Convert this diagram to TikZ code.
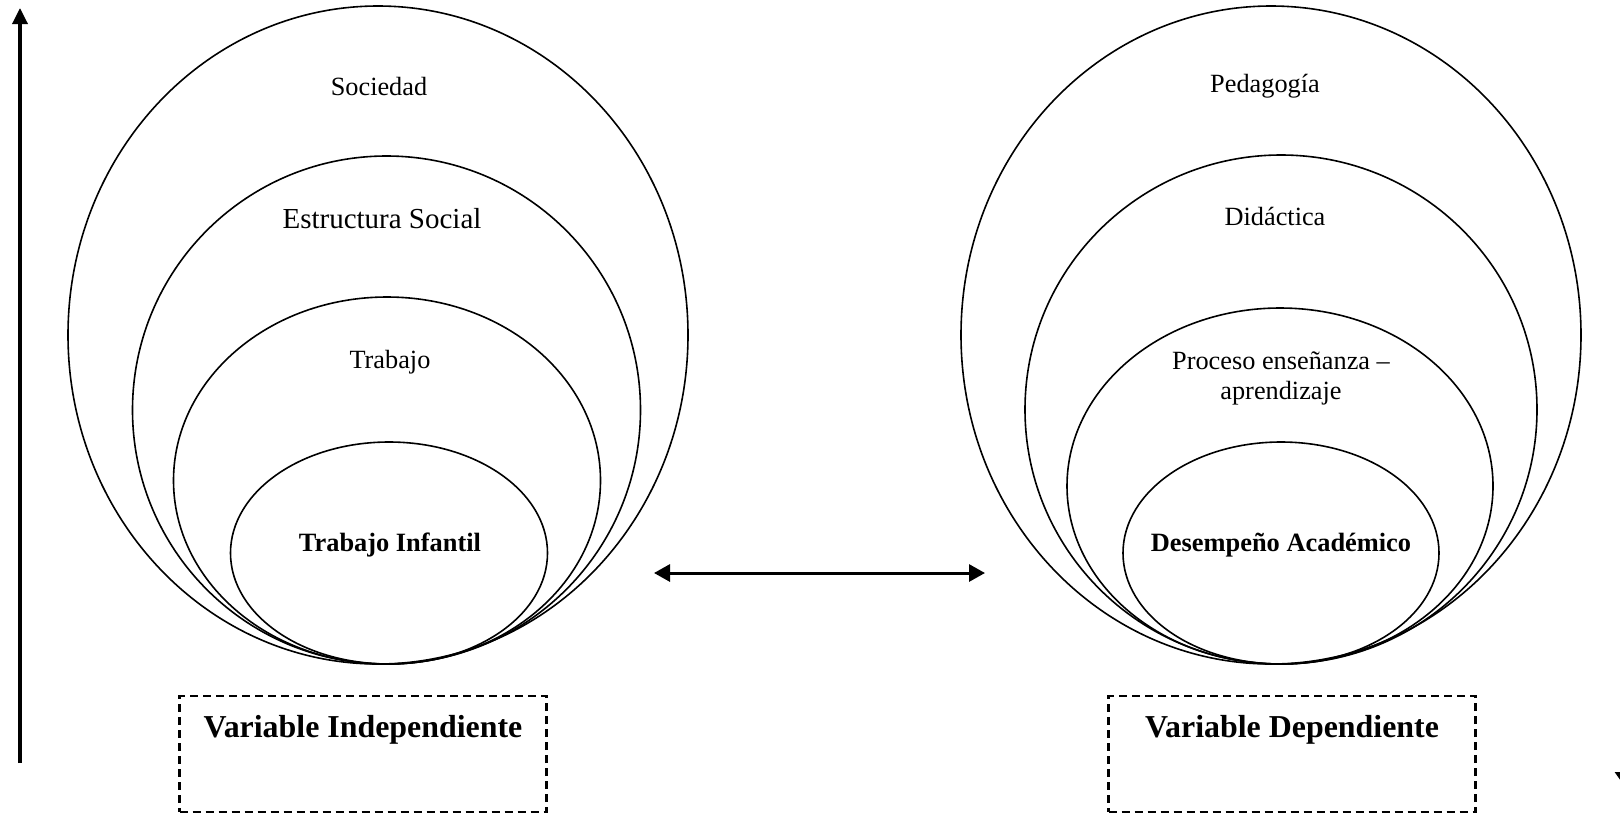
\documentclass[tikz,border=0pt]{standalone}
\usepackage{fontspec}
\setmainfont{Liberation Serif}
\usetikzlibrary{shapes.geometric,arrows.meta}
\begin{document}
\begin{tikzpicture}[x=1pt,y=-1pt,
  ring/.style={draw, ellipse, inner sep=0pt, outer sep=0pt, line width=1.6pt},
  lbl/.style={font=\fontsize{26.3}{30}\selectfont, align=center, inner sep=0pt},
  lblbig/.style={font=\fontsize{29}{33}\selectfont, align=center, inner sep=0pt},
  blbl/.style={font=\fontsize{26.4}{30}\selectfont\bfseries, align=center, inner sep=0pt},
  vlbl/.style={font=\fontsize{31.9}{36}\selectfont\bfseries, inner sep=0pt},
  vbox/.style={draw, rectangle, dash pattern=on 8pt off 5pt, line width=2.2pt,
    minimum width=367pt, minimum height=116pt, inner sep=0pt},
  axis/.style={line width=3.4pt, -{Triangle[length=16pt,width=15pt]}},
  link/.style={line width=3pt, {Triangle[length=16pt,width=17pt]}-{Triangle[length=16pt,width=17pt]}}
]
\useasboundingbox (0,0) rectangle (1620,815);
\clip (0,0) rectangle (1620,815);

% left nest
\node[ring, minimum width=620pt, minimum height=658pt] (L1) at (378,335) {};
\node[ring, minimum width=508pt, minimum height=508pt] (L2) at (386.5,410) {};
\node[ring, minimum width=427pt, minimum height=367pt] (L3) at (387,480.5) {};
\node[ring, minimum width=317pt, minimum height=222pt] (L4) at (389,553) {};

\node[lbl] (soc) at (379,86) {Sociedad};
\node[lblbig] (est) at (382,219) {Estructura Social};
\node[lbl] (trab) at (390,362) {Trabajo};
\node[blbl] (ti) at (390,545.5) {Trabajo Infantil};

% right nest
\node[ring, minimum width=620pt, minimum height=658pt] (R1) at (1271,335) {};
\node[ring, minimum width=512pt, minimum height=509pt] (R2) at (1281,409.5) {};
\node[ring, minimum width=426pt, minimum height=356pt] (R3) at (1280,486) {};
\node[ring, minimum width=316pt, minimum height=222pt] (R4) at (1281,553) {};

\node[lbl] (ped) at (1265,86) {Pedagogía};
\node[lbl] (did) at (1275,216) {Didáctica};
\node[lbl] (proc) at (1281,378) {Proceso enseñanza –\\aprendizaje};
\node[blbl] (da) at (1281,545.5) {Desempeño Académico};

% variable boxes
\node[vbox] (vibox) at (363,754) {};
\node[vlbl] (vi) at (363,730) {Variable Independiente};
\node[vbox] (vdbox) at (1292,754) {};
\node[vlbl] (vd) at (1292,730) {Variable Dependiente};

% connectors
\coordinate (linkL) at (654,573);
\coordinate (linkR) at (985,573);
\draw[link] (linkL) -- (linkR);

\coordinate (axB) at (20,763);
\coordinate (axT) at (20,8);
\draw[axis] (axB) -- (axT);

\coordinate (dnT) at (1623,740);
\coordinate (dnB) at (1623,784);
\draw[line width=3pt, -{Triangle[length=12pt,width=16pt]}] (dnT) -- (dnB);
\end{tikzpicture}
\end{document}
